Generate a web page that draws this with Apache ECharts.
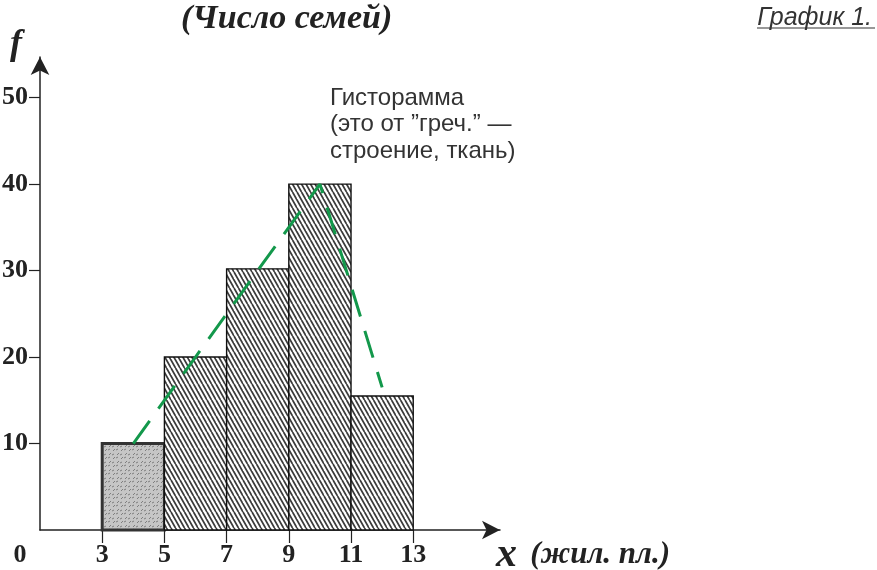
<!DOCTYPE html>
<html>
<head>
<meta charset="utf-8">
<script src="https://cdn.jsdelivr.net/npm/echarts@6/dist/echarts.min.js"></script>
<style>html,body{margin:0;padding:0;background:#fff}#c{width:877px;height:570px}</style>
</head>
<body>
<div id="c"></div>
<script>
// ---- data ----
const binStarts = [3, 5, 7, 9, 11];
const binEnds   = [5, 7, 9, 11, 13];
const freq      = [10, 20, 30.2, 40, 15.5];
const polyX = [4, 6, 8, 10, 12];
const polyY = [10, 20, 30, 40, 16.5];
const xTickValues = [3, 5, 7, 9, 11, 13];
const xLabelValues = [1, 3, 5, 7, 9, 11, 13];
const yTickValues = [10, 20, 30, 40, 50];
const titleText = '(Число семей)';
const graphText = 'График 1.';
const noteText = 'Гисторамма\n(это от ”греч.” —\nстроение, ткань)';

// ---- patterns ----
function hatchPattern() {
  const c = document.createElement('canvas');
  c.width = 9; c.height = 16;
  const g = c.getContext('2d');
  g.fillStyle = '#ffffff'; g.fillRect(0, 0, 9, 16);
  g.strokeStyle = '#3a3a3a'; g.lineWidth = 1.7;
  for (let o = -18; o <= 18; o += 4.5) {
    g.beginPath(); g.moveTo(o, 0); g.lineTo(o + 9, 16); g.stroke();
  }
  return c;
}
function specklePattern() {
  const c = document.createElement('canvas');
  c.width = 8; c.height = 8;
  const g = c.getContext('2d');
  g.fillStyle = '#c6c6c6'; g.fillRect(0, 0, 8, 8);
  g.strokeStyle = '#7e7e7e'; g.lineWidth = 1;
  const marks = [[1,3,3,1],[5,7,7,5],[4,2,6,1],[0,7,2,6]];
  marks.forEach(m => { g.beginPath(); g.moveTo(m[0], m[1]); g.lineTo(m[2], m[3]); g.stroke(); });
  return c;
}
const hatch = { image: hatchPattern(), repeat: 'repeat' };
const speckle = { image: specklePattern(), repeat: 'repeat' };

const histData = binStarts.map((s, i) => [s, binEnds[i], freq[i]]);
const polyData = polyX.map((x, i) => [x, polyY[i]]);

const chart = echarts.init(document.getElementById('c'), null, { renderer: 'canvas' });
const serif = 'Liberation Serif';
const sans = 'Liberation Sans';

chart.setOption({
  animation: false,
  backgroundColor: '#ffffff',
  title: [
    { text: titleText, left: 176, top: -3,
      textStyle: { fontFamily: serif, fontStyle: 'italic', fontWeight: 'bold', fontSize: 34, color: '#222' } },
    { text: graphText, right: 0, top: 1,
      textStyle: { fontFamily: sans, fontStyle: 'italic', fontWeight: 'normal', fontSize: 25, color: '#333' } },
    { text: noteText, left: 325, top: 80,
      textStyle: { fontFamily: sans, fontWeight: 'normal', fontSize: 24, lineHeight: 26.5, color: '#333' } }
  ],
  graphic: [
    { type: 'line', shape: { x1: 757, y1: 28, x2: 875, y2: 28 }, style: { stroke: '#333', lineWidth: 1.2 } }
  ],
  grid: { left: 40, right: 377, top: 57, bottom: 40, outerBoundsMode: 'none', containLabel: false },
  xAxis: {
    type: 'value', min: 1, max: 15.79,
    name: '{x|x}    {u|(жил. пл.)}', nameLocation: 'end', nameGap: -4,
    nameTextStyle: {
      align: 'left', verticalAlign: 'top', padding: [4, 0, 0, 0],
      rich: {
        x: { fontFamily: serif, fontStyle: 'italic', fontWeight: 'bold', fontSize: 42, color: '#222' },
        u: { fontFamily: serif, fontStyle: 'italic', fontWeight: 'bold', fontSize: 31, color: '#222' }
      }
    },
    axisLine: { show: true, lineStyle: { color: '#222', width: 1.5 }, symbol: ['none', 'arrow'], symbolSize: [14, 18] },
    axisTick: { show: true, customValues: xTickValues, length: 13, lineStyle: { color: '#222', width: 1.2 } },
    axisLabel: {
      customValues: xLabelValues, margin: 12,
      fontFamily: serif, fontWeight: 'bold', fontSize: 26, color: '#222',
      formatter: v => v === 1 ? '{o|0}' : String(v),
      rich: { o: { fontFamily: serif, fontWeight: 'bold', fontSize: 26, color: '#222', padding: [0, 40, 0, 0] } }
    },
    splitLine: { show: false }
  },
  yAxis: {
    type: 'value', min: 0, max: 54.7,
    name: 'f', nameLocation: 'end', nameGap: 12,
    nameTextStyle: { fontFamily: serif, fontStyle: 'italic', fontWeight: 'bold', fontSize: 36, color: '#222',
      align: 'right', verticalAlign: 'middle', padding: [0, 18, 0, 0] },
    axisLine: { show: true, lineStyle: { color: '#222', width: 1.5 }, symbol: ['none', 'arrow'], symbolSize: [14, 18] },
    axisTick: { show: true, customValues: yTickValues, length: 11, lineStyle: { color: '#222', width: 1.2 } },
    axisLabel: { customValues: yTickValues, margin: 12,
      fontFamily: serif, fontWeight: 'bold', fontSize: 26, color: '#222' },
    splitLine: { show: false }
  },
  series: [
    {
      type: 'custom',
      data: histData,
      encode: { x: [0, 1], y: 2 },
      renderItem: function (params, api) {
        const p0 = api.coord([api.value(0), api.value(2)]);
        const p1 = api.coord([api.value(1), 0]);
        const first = params.dataIndex === 0;
        return {
          type: 'rect',
          shape: { x: p0[0], y: p0[1], width: p1[0] - p0[0], height: p1[1] - p0[1] },
          style: first
            ? { fill: speckle, stroke: '#333', lineWidth: 3 }
            : { fill: hatch, stroke: '#111', lineWidth: 1.4 }
        };
      },
      z: 2
    },
    {
      type: 'line',
      data: polyData,
      symbol: 'none',
      lineStyle: { color: '#13984b', width: 3, type: [28, 15] },
      z: 3
    }
  ]
});
</script>
</body>
</html>
